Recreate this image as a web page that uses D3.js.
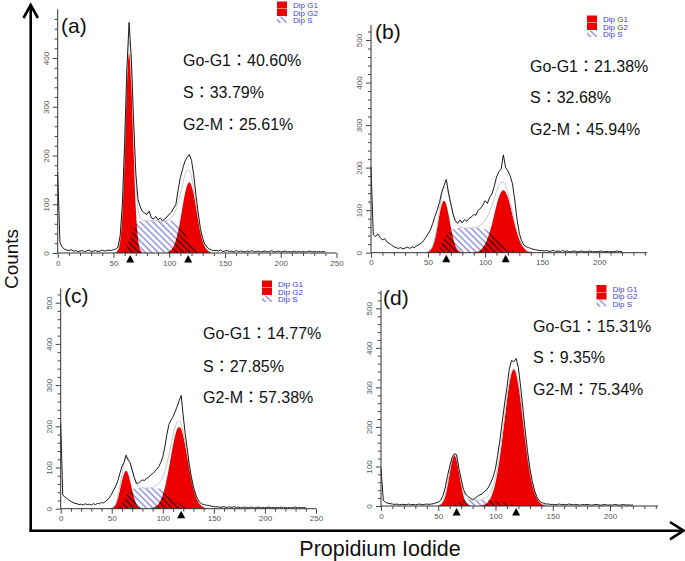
<!DOCTYPE html>
<html><head><meta charset="utf-8">
<script src="https://cdn.jsdelivr.net/npm/d3@7/dist/d3.min.js"></script>
<style>body{margin:0;background:#fff;} svg{display:block;}</style>
</head><body>
<svg id="chart" width="685" height="561"></svg>
<script>
// ---------------- DATA ----------------
// histogram counts, channels 0,2,4,... (step 2)
const histA = [165,22,12,8,6,5,7,4,5,3, 4,5,3,4,6,3,4,5,3,4, 6,4,5,6,5,7,8,12,35,100,
  225,375,473,400,275,165,110,95,85,82, 79,86,72,70,75,68,72,66,70,74,
  80,84,92,100,130,155,172,188,196,202, 190,160,118,82,50,30,18,12,8,6, 5,
  5,4,6,3,4,5,3,4,2,5, 3,4,3,2,4,3,5,2,3,4, 2,3,4,2,3,5,2,3,4,2, 3,4,2,3,2,4,2,3,2,3, 2,3,4,2,3,2,3,2,3,2];
const histB = [202,42,38,44,36,30,33,25,22,18, 14,12,10,12,9,11,13,10,14,12, 16,19,22,28,36,44,53,68,85,100,
  118,142,158,172,140,115,90,75,69,77, 70,78,74,81,84,90,88,100,104,112,
  122,116,130,138,156,178,190,196,230,200, 192,180,162,124,78,46,28,18,14,12,
  10,8,7,6,5,5,4,5,3,4, 5,3,4,3,5,3,4,2,3,4, 3,2,4,3,2,3,4,2,3,2, 3,4,2,3,2,3,2,3,4,2, 3];
const histC = [207,33,29,25,21,18,15,13,12,10, 11,9,12,10,11,9,12,10,13,12, 15,14,18,22,28,36,46,55,68,86,
  102,112,130,118,112,94,76,62,62,66, 70,68,74,76,82,85,90,96,102,112,
  126,150,180,205,215,223,235,248,262,275, 225,180,145,105,76,53,36,24,16,12,
  10,9,8,7,6,5,4,5,3,4, 5,3,4,4,3,5,3,4,2,3, 4,3,2,4,3,2,3,4,2,3, 2,3,4,2,3,2,3,2,4,2, 3,2,3,2,3,4,2,3,2,3, 2];
const histD = [95,15,9,7,6,5,4,5,3,4, 4,3,5,3,4,3,4,5,3,4, 5,4,5,6,8,10,14,25,45,75,
  100,122,132,130,95,68,42,30,24,20, 16,19,24,28,30,36,40,48,60,74,
  95,130,170,215,260,300,345,368,365,373, 350,300,245,190,138,96,64,40,24,14,
  9,7,5,5,4,4,3,4,5,3, 4,3,5,4,3,4,3,2,4,3, 4,3,2,3,4,3,2,3,4,2, 3,2,4,3,2,3,4,2,3,2, 3];

// fitted components (first channel, then values every 2 channels)
const g1AStart = 52, g1A = [1,7,30,94,213,348,410,348,213,94,30,7,1];
const g2AStart = 98, g2A = [1,3,7,14,26,44,68,95,120,138,145,138,120,95,68,44,26,14,7,3,1];
const sAStart = 58,  sA  = [0,3,12,25,38,50,58,63,65,66,66,66,66,66,66,66,66,66,66,66,66,66,66,65,63,59,53,46,39,32,25,18,12,8,4,2,0];

const g1BStart = 48, g1B = [1,2,7,16,34,59,89,113,122,113,89,59,34,16,7,2,1];
const g2BStart = 90, g2B = [1,2,3,6,12,20,32,48,67,89,111,130,142,147,142,130,111,89,67,48,32,20,12,6,3,2,1];
const sBStart = 56,  sB  = [0,4,12,22,32,41,48,53,56,57,58,58,58,58,58,58,58,58,58,58,58,57,55,52,48,43,38,33,28,23,18,14,10,7,5,3,2,1,0];

const g1CStart = 48, g1C = [1,2,5,12,26,45,67,85,92,85,67,45,26,12,5,2,1];
const g2CStart = 88, g2C = [1,2,4,7,12,21,34,51,73,99,127,154,177,193,198,193,177,154,127,99,73,51,34,21,12,7,4,2,1];
const sCStart = 54,  sC  = [0,4,10,17,25,32,38,43,47,49,50,50,50,50,50,50,50,50,50,50,50,49,47,44,40,36,32,28,24,20,17,14,11,8,6,4,3,2,1,0];

const g1DStart = 50, g1D = [1,4,11,26,53,86,116,128,116,86,53,26,11,4,1];
const g2DStart = 88, g2D = [2,3,6,12,22,37,59,89,127,173,221,269,309,336,345,336,309,269,221,173,127,89,59,37,22,12,6,3,2];
const sDStart = 62,  sD  = [0,2,5,8,11,13,14,15,15,15,15,15,15,15,15,15,15,15,14,13,12,10,9,8,6,5,4,3,2,1,1,0];

// peak markers (channels)
const markA = [65, 117], markB = [66, 118], markC = [118], markD = [66, 118];

// phase percentages
const labelsPanel = ["(a)", "(b)", "(c)", "(d)"];
const phaseNames = ["Go-G1", "S", "G2-M"];
const pctA = ["40.60%", "33.79%", "25.61%"];
const pctB = ["21.38%", "32.68%", "45.94%"];
const pctC = ["14.77%", "27.85%", "57.38%"];
const pctD = ["15.31%", "9.35%", "75.34%"];
const legendNames = ["Dip G1", "Dip G2", "Dip S"];

// axis ticks
const xMajorFull = [0, 50, 100, 150, 200, 250];
const xMajorShort = [0, 50, 100, 150, 200];
const yMajorA = [0, 100, 200, 300, 400];
const yMajor = [0, 100, 200, 300, 400, 500];

// ---------------- LAYOUT ----------------
const layouts = [
  {xl:57.7, xr:336.5, xMax:250, yb:253,   y500:9.25,  yTop:500, lgx:277,   lgy:1.5,   tx:183, ty:[66,98,130],   lx:61, ly:32.5},
  {xl:371,  xr:647.1, xMax:242, yb:252.7, y500:40,    yTop:535, lgx:587,   lgy:15.5,  tx:530, ty:[72,103,135],  lx:375, ly:39},
  {xl:60.7, xr:316,   xMax:250, yb:508.7, y500:302.7, yTop:535, lgx:262,   lgy:280.5, tx:203, ty:[339,372,403], lx:64, ly:303},
  {xl:381,  xr:658.1, xMax:242, yb:506,   y500:308.3, yTop:545, lgx:596.5, lgy:285,   tx:533, ty:[332,363,395], lx:383, ly:305}
];

const series = (start, vals) => vals.map((v, i) => ({c: start + i * 2, v}));
const histSeries = vals => vals.map((v, i) => ({c: i * 2, v}));

const panels = [
  {hist: histA, g1: series(g1AStart, g1A), g2: series(g2AStart, g2A), s: series(sAStart, sA), marks: markA, pct: pctA, xt: xMajorFull, yt: yMajorA},
  {hist: histB, g1: series(g1BStart, g1B), g2: series(g2BStart, g2B), s: series(sBStart, sB), marks: markB, pct: pctB, xt: xMajorShort, yt: yMajor},
  {hist: histC, g1: series(g1CStart, g1C), g2: series(g2CStart, g2C), s: series(sCStart, sC), marks: markC, pct: pctC, xt: xMajorFull, yt: yMajor},
  {hist: histD, g1: series(g1DStart, g1D), g2: series(g2DStart, g2D), s: series(sDStart, sD), marks: markD, pct: pctD, xt: xMajorShort, yt: yMajor}
];

const RED = "#ec0000";
const BLUE_HATCH = "#6a6ad6";
const FONT = "'Liberation Sans', Arial, 'Noto Sans CJK JP', sans-serif";

const svg = d3.select("#chart");
svg.append("rect").attr("width", 685).attr("height", 561).attr("fill", "#fff");
const defs = svg.append("defs");

function hatch(id, color, w) {
  const p = defs.append("pattern").attr("id", id).attr("patternUnits", "userSpaceOnUse")
    .attr("width", 4.5).attr("height", 4.5).attr("patternTransform", "rotate(-45)");
  p.append("line").attr("x1", 0.75).attr("y1", 0).attr("x2", 0.75).attr("y2", 4.5)
    .attr("stroke", color).attr("stroke-width", w);
}
hatch("hb", BLUE_HATCH, 1.1);
hatch("hk", "#111", 1.1);

panels.forEach((p, pi) => {
  const L = layouts[pi];
  const x = d3.scaleLinear().domain([0, L.xMax]).range([L.xl, L.xr]);
  const y = d3.scaleLinear().domain([0, 500]).range([L.yb, L.y500]);
  const g = svg.append("g");

  const area = d3.area().x(d => x(d.c)).y0(y(0)).y1(d => y(d.v)).curve(d3.curveMonotoneX);

  // S phase (blue hatch)
  g.append("path").attr("d", area(p.s)).attr("fill", "url(#hb)");
  // G1 / G2 red
  g.append("path").attr("d", area(p.g1)).attr("fill", RED);
  g.append("path").attr("d", area(p.g2)).attr("fill", RED);
  // S over red -> black hatch
  const cp = defs.append("clipPath").attr("id", "cp" + pi);
  cp.append("path").attr("d", area(p.g1));
  cp.append("path").attr("d", area(p.g2));
  g.append("path").attr("d", area(p.s)).attr("fill", "url(#hk)").attr("clip-path", `url(#cp${pi})`);

  // total fit (sum of components)
  const sum = new Map();
  [p.g1, p.g2, p.s].forEach(arr => arr.forEach(d => sum.set(d.c, (sum.get(d.c) || 0) + d.v)));
  const fit = Array.from(sum, ([c, v]) => ({c, v})).sort((a, b) => a.c - b.c);
  g.append("path").attr("d", d3.line().x(d => x(d.c)).y(d => y(d.v)).curve(d3.curveMonotoneX)(fit))
    .attr("fill", "none").attr("stroke", "#c8c8c8").attr("stroke-width", 1);

  // histogram
  g.append("path").attr("d", d3.line().x(d => x(d.c)).y(d => y(d.v))(histSeries(p.hist)))
    .attr("fill", "none").attr("stroke", "#1b1b1b").attr("stroke-width", 1).attr("stroke-linejoin", "round");

  // axes
  const yTopScale = y(L.yTop);
  const xMinor = d3.range(0, L.xMax + 0.1, 10).filter(v => v % 50 !== 0);
  const yMinor = d3.range(0, L.yTop + 0.1, 20).filter(v => v % 100 !== 0);

  const xAx = g.append("g").attr("transform", `translate(0,${L.yb})`)
    .call(d3.axisBottom(x).tickValues(p.xt).tickSize(5).tickSizeOuter(0).tickPadding(2).tickFormat(d3.format("d")));
  g.append("g").attr("transform", `translate(0,${L.yb})`)
    .call(d3.axisBottom(x).tickValues(xMinor).tickSize(3).tickSizeOuter(0).tickFormat(""))
    .select(".domain").remove();
  xAx.select(".domain").attr("d", `M${x(0)},0H${x(L.xMax)}`);
  xAx.selectAll("text").attr("font-size", 8).attr("fill", "#555").attr("font-family", FONT);

  const yAx = g.append("g").attr("transform", `translate(${L.xl},0)`)
    .call(d3.axisLeft(y).tickValues(p.yt).tickSize(5).tickSizeOuter(0).tickFormat(d3.format("d")));
  yAx.select(".domain").attr("d", `M0,${L.yb}V${yTopScale}`);
  yAx.selectAll("text").attr("x", null).attr("dy", null).attr("text-anchor", "middle")
    .attr("transform", "translate(-9,0) rotate(-90)")
    .attr("font-size", 8).attr("fill", "#555").attr("font-family", FONT);
  g.append("g").attr("transform", `translate(${L.xl},0)`)
    .call(d3.axisLeft(y).tickValues(yMinor).tickSize(3).tickFormat(""))
    .select(".domain").remove();
  g.selectAll(".tick line").attr("stroke", "#444");
  g.selectAll(".domain").attr("stroke", "#333");

  // peak markers
  p.marks.forEach(m => {
    const cx = x(m);
    g.append("path").attr("d", `M${cx - 4},${L.yb + 9.5}L${cx},${L.yb + 2}L${cx + 4},${L.yb + 9.5}Z`).attr("fill", "#000");
  });

  // legend
  const lg = g.append("g").attr("transform", `translate(${L.lgx},${L.lgy})`);
  legendNames.forEach((nm, i) => {
    const fill = i < 2 ? RED : "url(#hb)";
    lg.append("rect").attr("x", 0).attr("y", i * 7.5).attr("width", 10).attr("height", i < 2 ? 7 : 6.5)
      .attr("fill", fill);
    lg.append("text").attr("x", 16).attr("y", i * 7.5 + 6.5).text(nm)
      .attr("font-size", 8).attr("fill", "#3c3cd8").attr("font-family", FONT);
  });

  // panel label
  g.append("text").attr("x", L.lx).attr("y", L.ly).text(labelsPanel[pi])
    .attr("font-size", 21).attr("font-family", FONT).attr("fill", "#111");

  // stats
  phaseNames.forEach((nm, i) => {
    g.append("text").attr("x", L.tx).attr("y", L.ty[i]).text(nm + "：" + p.pct[i])
      .attr("font-size", 16).attr("font-family", FONT).attr("fill", "#111");
  });
});

// big outer axes with arrows
const big = svg.append("g").attr("fill", "none").attr("stroke", "#000").attr("stroke-width", 2.6);
big.append("path").attr("d", "M30.7,531.5V5.5");
big.append("path").attr("d", "M23.5,18L30.7,5L37.9,18").attr("stroke-linejoin", "miter");
big.append("path").attr("d", "M29.4,530.7H682");
big.append("path").attr("d", "M670,522L683.5,530.7L670,539.4");

svg.append("text").attr("transform", "translate(18,259) rotate(-90)").attr("text-anchor", "middle")
  .text("Counts").attr("font-size", 19).attr("font-family", FONT).attr("fill", "#111");
svg.append("text").attr("x", 380).attr("y", 556).attr("text-anchor", "middle")
  .text("Propidium Iodide").attr("font-size", 21.5).attr("font-family", FONT).attr("fill", "#111");
</script>
</body></html>
